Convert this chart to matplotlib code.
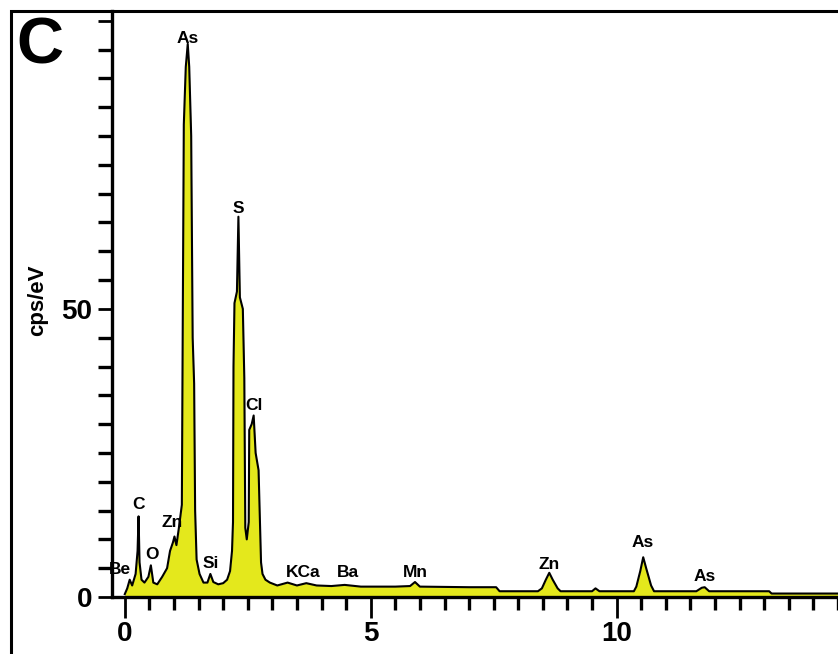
import matplotlib
matplotlib.use("Agg")
import matplotlib.pyplot as plt
from matplotlib.patches import Rectangle
from matplotlib.ticker import MultipleLocator, FixedLocator, FixedFormatter

plt.rcParams['font.family'] = ['Liberation Sans', 'DejaVu Sans']

# EDS spectrum (energy in keV, counts in cps/eV)
energy = [0.00, 0.05, 0.10, 0.15, 0.22, 0.26, 0.28, 0.30, 0.34, 0.40, 0.48, 0.53, 0.58,
          0.66, 0.76, 0.86, 0.92, 0.98, 1.01, 1.05, 1.10, 1.16, 1.18, 1.20, 1.24, 1.28,
          1.31, 1.35, 1.38, 1.41, 1.43, 1.46, 1.52, 1.60, 1.68, 1.74, 1.80, 1.90, 2.00,
          2.08, 2.14, 2.18, 2.20, 2.21, 2.23, 2.28, 2.31, 2.34, 2.40, 2.43, 2.45, 2.48,
          2.52, 2.53, 2.58, 2.62, 2.66, 2.72, 2.77, 2.80, 2.86, 2.95, 3.10, 3.31, 3.50,
          3.69, 3.90, 4.20, 4.47, 4.80, 5.50, 5.80, 5.90, 6.00, 7.00, 7.55, 7.62, 8.40,
          8.48, 8.56, 8.63, 8.70, 8.80, 8.86, 9.50, 9.57, 9.65, 10.35, 10.40, 10.48, 10.54,
          10.60, 10.70, 10.76, 11.62, 11.73, 11.79, 11.88, 13.10, 13.15, 14.60]
counts = [0.5, 1.5, 3.0, 2.0, 4.0, 8.0, 14.0, 6.0, 3.0, 2.5, 3.5, 5.5, 2.5,
          2.2, 3.5, 5.0, 8.0, 9.5, 10.5, 9.0, 12.0, 16.0, 50.0, 82.0, 92.0, 96.0,
          92.0, 80.0, 45.0, 37.0, 15.0, 6.5, 4.0, 2.5, 2.5, 4.0, 2.6, 2.2, 2.4,
          3.0, 4.5, 8.0, 13.0, 40.0, 51.0, 53.0, 66.0, 52.0, 50.0, 38.0, 12.0, 10.0,
          13.0, 29.0, 30.0, 31.5, 25.0, 22.0, 6.0, 4.0, 3.0, 2.5, 2.0, 2.5, 2.0,
          2.4, 2.0, 1.9, 2.1, 1.8, 1.8, 1.9, 2.6, 1.8, 1.7, 1.7, 1.0, 1.0,
          1.5, 3.0, 4.2, 3.0, 1.5, 1.0, 1.0, 1.5, 1.0, 1.0, 1.8, 4.5, 6.9,
          5.0, 2.0, 1.0, 1.0, 1.6, 1.7, 1.0, 1.0, 0.6, 0.6]

# Peak labels
label_names = ["As", "S", "Cl", "C", "O", "Zn", "Si", "Be", "KCa", "Ba", "Mn", "Zn", "As", "As"]
label_x = [1.28, 2.31, 2.62, 0.28, 0.55, 0.96, 1.75, -0.10, 3.62, 4.53, 5.90, 8.62, 10.53, 11.79]
label_y = [97.0, 67.5, 33.2, 16.0, 7.3, 13.0, 5.9, 4.7, 4.2, 4.2, 4.2, 5.6, 9.4, 3.5]

x_ticks = [0, 5, 10]
x_ticklabels = ["0", "5", "10"]
y_ticks = [0, 50, 100]
y_ticklabels = ["0", "50", ""]

W, H = 838, 654
fig = plt.figure(figsize=(W / 100, H / 100), dpi=100)
fig.patch.set_facecolor("white")

# outer frame
fig.patches.append(Rectangle((11 / W, -0.05), 1.2, 1 - 11 / H + 0.05, transform=fig.transFigure,
                             fill=False, edgecolor="black", linewidth=2.2, zorder=0))

ax = fig.add_axes([112 / W, 1 - 597 / H, 1 - 112 / W, (597 - 11) / H])
ax.set_facecolor("none")
ax.set_xlim(-0.26, 14.5)
ax.set_ylim(0, 101.7)

ax.fill_between(energy, counts, 0, color="#e4e81c", linewidth=0, zorder=2)
ax.plot(energy, counts, color="black", linewidth=1.5, zorder=3)

for name, lx, ly in zip(label_names, label_x, label_y):
    ax.text(lx, ly, name, ha="center", va="center", fontsize=12.5, fontweight="bold",
            color="black", zorder=4, clip_on=False)

for side in ["top", "right"]:
    ax.spines[side].set_visible(False)
for side in ["left", "bottom"]:
    ax.spines[side].set_linewidth(2.4)
    ax.spines[side].set_zorder(5)

ax.xaxis.set_major_locator(FixedLocator(x_ticks))
ax.xaxis.set_major_formatter(FixedFormatter(x_ticklabels))
ax.xaxis.set_minor_locator(MultipleLocator(0.5))
ax.yaxis.set_major_locator(FixedLocator(y_ticks))
ax.yaxis.set_major_formatter(FixedFormatter(y_ticklabels))
ax.yaxis.set_minor_locator(MultipleLocator(5))

ax.tick_params(axis="x", which="major", direction="out", length=15, width=2.0, pad=2,
               labelsize=20)
ax.tick_params(axis="x", which="minor", direction="out", length=9, width=2.4)
ax.tick_params(axis="y", which="major", direction="out", length=10, width=2.0, pad=4,
               labelsize=20)
ax.tick_params(axis="y", which="minor", direction="out", length=10, width=2.4)
for lbl in ax.get_xticklabels() + ax.get_yticklabels():
    lbl.set_fontweight("bold")

fig.text(38 / W, 1 - 300 / H, "cps/eV", rotation=90, ha="center", va="center",
         fontsize=16, fontweight="bold")
fig.text(40 / W, 1 - 46 / H, "C", ha="center", va="center", fontsize=47,
         fontweight="bold")

fig.savefig("out.png", dpi=100, facecolor="white")
